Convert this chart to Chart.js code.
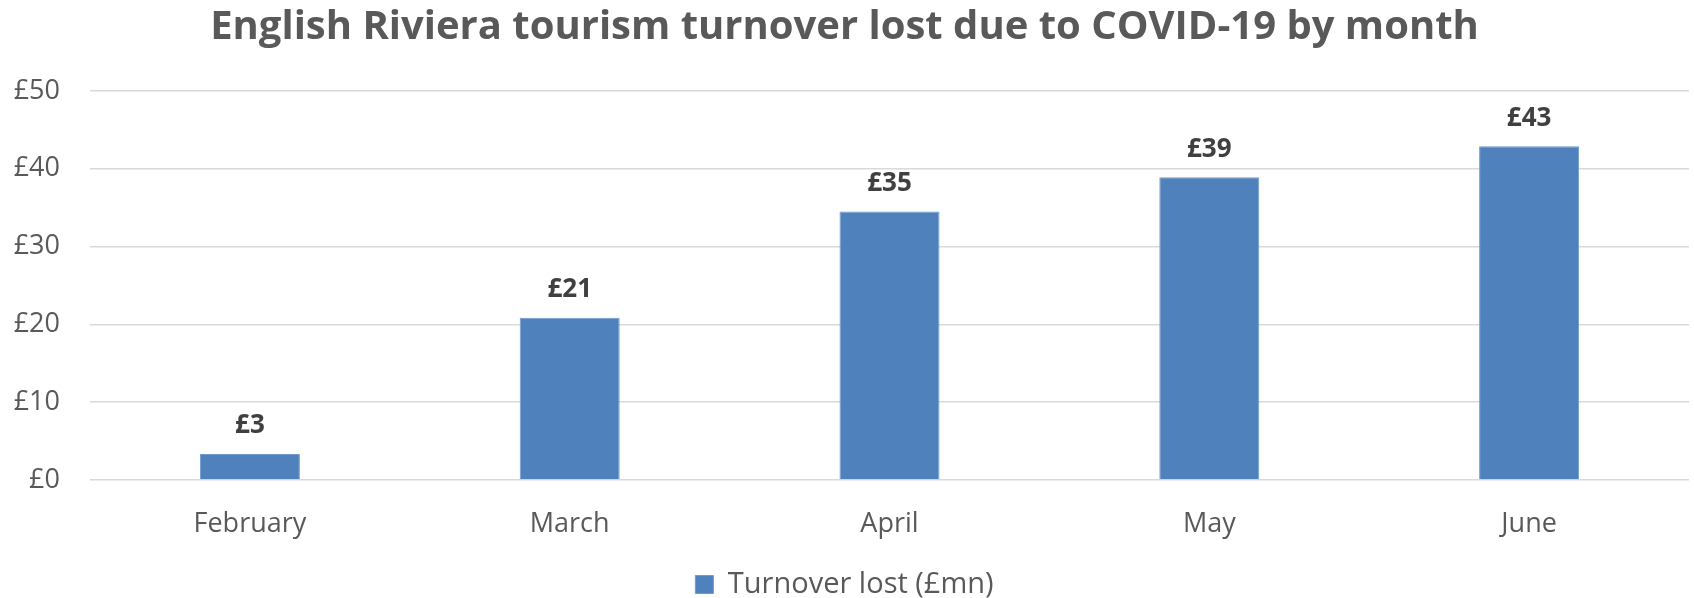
<!DOCTYPE html>
<html>
<head>
<meta charset="utf-8">
<script src="https://cdn.jsdelivr.net/npm/chart.js@4"></script>
<style>
html,body{margin:0;padding:0;background:#fff;}
#wrap{width:1694px;height:598px;position:relative;}
</style>
</head>
<body>
<div id="wrap"><canvas id="c" width="1694" height="598"></canvas></div>
<script>
const categories = ["February", "March", "April", "May", "June"];
const turnoverLost = [3.35, 20.85, 34.5, 38.9, 42.9];
const seriesName = "Turnover lost (£mn)";
const titleText = "English Riviera tourism turnover lost due to COVID-19 by month";
const yTicks = [0, 10, 20, 30, 40, 50];

const FONT = "'Open Sans', sans-serif";

const dataLabels = {
  id: 'dataLabels',
  afterDatasetsDraw(chart) {
    const ctx = chart.ctx;
    const meta = chart.getDatasetMeta(0);
    ctx.save();
    ctx.font = "bold 26px " + FONT;
    ctx.fillStyle = "#404040";
    ctx.textAlign = "center";
    ctx.textBaseline = "bottom";
    meta.data.forEach((bar, i) => {
      const v = chart.data.datasets[0].data[i];
      ctx.fillText("£" + Math.round(v), bar.x, bar.y - 15);
    });
    ctx.restore();
  }
};

new Chart(document.getElementById('c'), {
  type: 'bar',
  data: {
    labels: categories,
    datasets: [{
      label: seriesName,
      data: turnoverLost,
      backgroundColor: '#4F81BD',
      borderColor: '#6f9bd0',
      borderWidth: 1,
      barPercentage: 1,
      categoryPercentage: 0.3127
    }]
  },
  options: {
    responsive: false,
    animation: false,
    devicePixelRatio: 1,
    layout: { padding: { left: 0, right: 5, top: 0, bottom: -11 } },
    plugins: {
      title: {
        display: true,
        text: titleText,
        color: '#595959',
        font: { family: FONT, size: 40, weight: 'bold' },
        padding: { top: 4, bottom: 39 }
      },
      legend: {
        display: true,
        position: 'bottom',
        labels: {
          color: '#595959',
          font: { family: FONT, size: 29 },
          boxWidth: 18,
          boxHeight: 18,
          padding: 0
        }
      },
      tooltip: { enabled: false }
    },
    scales: {
      x: {
        afterFit(scale) { scale.height = 90; },
        grid: { display: false, drawTicks: false },
        border: { display: false },
        ticks: {
          color: '#595959',
          font: { family: FONT, size: 27 },
          padding: 28,
          maxRotation: 0
        }
      },
      y: {
        min: 0,
        max: 50,
        afterBuildTicks(scale) { scale.ticks = yTicks.map(v => ({ value: v })); },
        afterFit(scale) { scale.width = 90; },
        grid: { color: '#d9d9d9', lineWidth: 1.5, drawTicks: false },
        border: { display: false },
        ticks: {
          color: '#595959',
          font: { family: FONT, size: 27 },
          padding: 30,
          callback: v => '£' + v
        }
      }
    }
  },
  plugins: [dataLabels]
});
</script>
</body>
</html>
